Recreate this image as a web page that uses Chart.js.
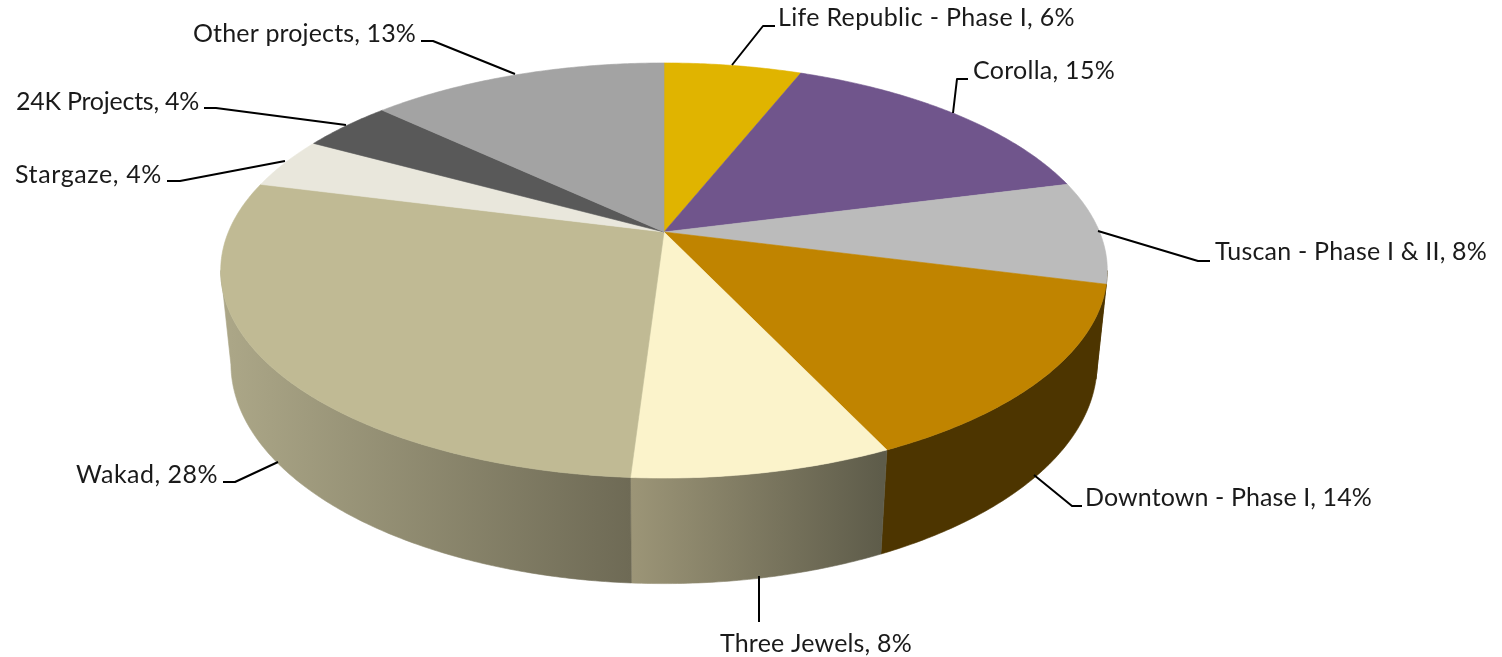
<!DOCTYPE html>
<html>
<head>
<meta charset="utf-8">
<title>Project share</title>
<style>
  html, body { margin: 0; padding: 0; background: #fff; }
  canvas { display: block; }
</style>
<script src="https://cdn.jsdelivr.net/npm/chart.js@4/dist/chart.umd.js"></script>
</head>
<body>
<canvas id="chart-projects" width="1502" height="657"></canvas>
<script>
const categories = ["Life Republic - Phase I", "Corolla", "Tuscan - Phase I & II", "Downtown - Phase I",
  "Three Jewels", "Wakad", "Stargaze", "24K Projects", "Other projects"];
const shares = [6, 15, 8, 14, 8, 28, 4, 4, 13];
const topColors = ["#e0b400", "#70558c", "#bbbbbb", "#c08400", "#fbf3cb", "#c0ba94", "#e9e7dc", "#595959", "#a3a3a3"];

// wall colours, left to right; only the front slices show a wall
const wallColors = [
  ["#8a7200", "#8a7200"], ["#463654", "#463654"], ["#4d3500", "#4d3500"], ["#4d3500", "#4d3500"],
  ["#9c9577", "#5e5c4a"], ["#aba687", "#6e6a55"], ["#92918a", "#92918a"], ["#383838", "#383838"], ["#666666", "#666666"],
];

// Label anchors: text left edge, text width, text centre y, then the leader line from the pie outwards
const labelLayout = [
  { x: 778, w: 297, y: 18, line: [[732, 65], [763, 26], [775, 26]] },
  { x: 973, w: 142, y: 71, line: [[953, 113], [957, 79], [968, 79]] },
  { x: 1215, w: 272, y: 252, line: [[1098, 231], [1198, 261], [1210, 261]] },
  { x: 1085, w: 287, y: 498, line: [[1034, 475], [1072, 506], [1082, 506]] },
  { x: 720, w: 192, y: 644, line: [[759, 576], [759, 622]] },
  { x: 76, w: 142, y: 475, line: [[278, 462], [235, 482], [223, 482]] },
  { x: 15, w: 147, y: 175, line: [[285, 161], [180, 181], [167, 181]] },
  { x: 16, w: 183, y: 102, line: [[346, 125], [216, 108], [204, 108]] },
  { x: 193, w: 223, y: 34, line: [[515, 74], [433, 41], [421, 41]] },
];

// Perspective of the disc: apex position, radii and foreshortening, fitted to the picture
const view = { cx: 664, cy: 232, rx: 435.6, ry: 200.4, tilt: -0.1855, depthW: 0.0228, depthY: 94 };

// Rim angles where the wall meets the silhouette of the top face
const frontStart = Math.asin(-view.tilt);
const frontEnd = Math.PI - frontStart;

// Project a rim point of the unit circle; level 0 is the top face, 1 the bottom face
function project(angle, level) {
  const u = Math.cos(angle), v = Math.sin(angle);
  const w = 1 + view.tilt * v + view.depthW * level;
  return [view.cx + view.rx * u / w, view.cy + (view.ry * v + view.depthY * level) / w];
}

function rimPoints(start, end, level) {
  const steps = Math.max(2, Math.ceil((end - start) / 0.01));
  const pts = [];
  for (let i = 0; i <= steps; i++) pts.push(project(start + (end - start) * i / steps, level));
  return pts;
}

function fillPath(ctx, pts, style) {
  ctx.beginPath();
  pts.forEach((p, i) => (i ? ctx.lineTo(p[0], p[1]) : ctx.moveTo(p[0], p[1])));
  ctx.closePath();
  ctx.fillStyle = style;
  ctx.strokeStyle = style;
  ctx.lineWidth = 0.6;
  ctx.fill();
  ctx.stroke();
}

// Draws the pie's arcs as a tilted disc, angles come straight from Chart.js
const tiltedPie = {
  id: "tiltedPie",
  beforeDatasetDraw(chart, args) {
    const ctx = chart.ctx;
    const arcs = args.meta.data;
    ctx.save();
    arcs.forEach((arc, i) => {
      const start = Math.max(arc.startAngle, frontStart);
      const end = Math.min(arc.endAngle, frontEnd);
      if (end <= start) return;
      const top = rimPoints(start, end, 0);
      const bottom = rimPoints(start, end, 1).reverse();
      // the gradient runs over the whole slice, also the part hidden behind the top face
      const xs = rimPoints(arc.startAngle, Math.min(arc.endAngle, frontEnd), 1).map((p) => p[0]);
      const grad = ctx.createLinearGradient(Math.min(...xs), 0, Math.max(...xs), 0);
      grad.addColorStop(0, wallColors[i][0]);
      grad.addColorStop(1, wallColors[i][1]);
      fillPath(ctx, top.concat(bottom), grad);
    });
    arcs.forEach((arc, i) => {
      const face = rimPoints(arc.startAngle, arc.endAngle, 0);
      face.unshift([view.cx, view.cy]);
      fillPath(ctx, face, topColors[i]);
    });
    ctx.restore();
    return false;
  },
  afterDatasetsDraw(chart) {
    const ctx = chart.ctx;
    ctx.save();
    ctx.strokeStyle = "#000";
    ctx.lineWidth = 2;
    ctx.lineJoin = "round";
    ctx.font = "25px Lato";
    ctx.fillStyle = "#1a1a1a";
    ctx.textAlign = "left";
    ctx.textBaseline = "middle";
    labelLayout.forEach((l, i) => {
      ctx.beginPath();
      l.line.forEach((p, j) => (j ? ctx.lineTo(p[0], p[1]) : ctx.moveTo(p[0], p[1])));
      ctx.stroke();
      const text = categories[i] + ", " + shares[i] + "%";
      ctx.letterSpacing = "0px";
      const spare = l.w - ctx.measureText(text).width;
      ctx.letterSpacing = (spare / text.length).toFixed(2) + "px";
      ctx.fillText(text, l.x, l.y);
    });
    ctx.restore();
  },
};

new Chart(document.getElementById("chart-projects"), {
  type: "pie",
  data: {
    labels: categories,
    datasets: [{ data: shares, backgroundColor: topColors, borderWidth: 0 }],
  },
  options: {
    responsive: false,
    animation: false,
    devicePixelRatio: 1,
    plugins: { legend: { display: false }, tooltip: { enabled: false } },
  },
  plugins: [tiltedPie],
});
</script>
</body>
</html>
